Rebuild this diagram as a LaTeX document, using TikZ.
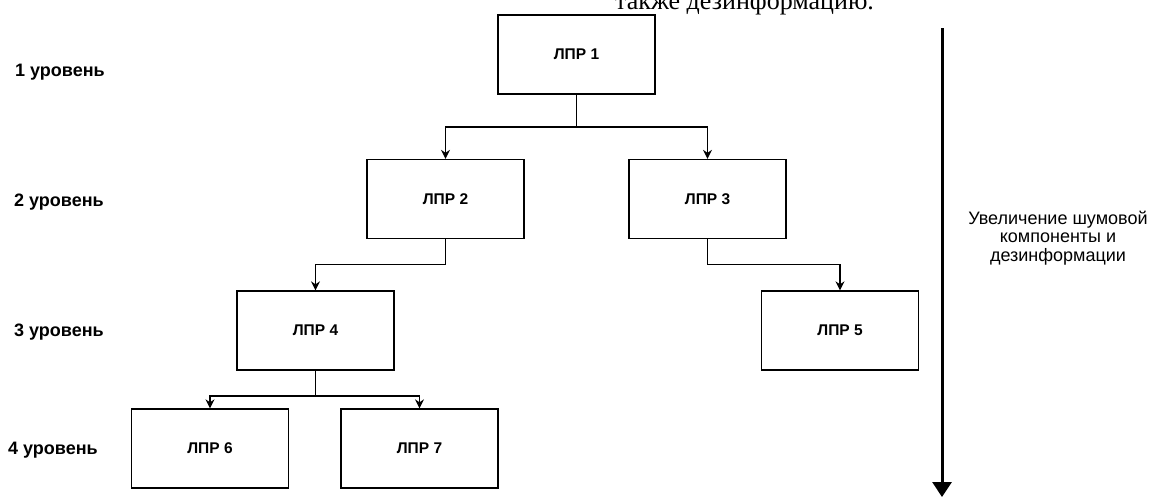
\documentclass[tikz,border=0pt]{standalone}
\usepackage{fontspec}
\setmainfont{Liberation Sans}
\newfontfamily\serifcap{Liberation Serif}
\usetikzlibrary{arrows.meta,positioning}

\tikzset{
  lpr/.style={draw, line width=1.3pt, minimum width=157pt, minimum height=79pt,
              inner sep=0pt, font=\bfseries\fontsize{15.5}{17}\selectfont},
  lvl/.style={anchor=west, inner sep=0pt, font=\bfseries\fontsize{18}{20}\selectfont},
  link/.style={line width=1.3pt, -{Stealth[length=9pt,width=9pt]}},
  bigarrow/.style={line width=3pt, -{Triangle[length=15pt,width=19pt]}}
}

\begin{document}
\begin{tikzpicture}[x=1pt,y=-1pt]
  \useasboundingbox (0,0) rectangle (1153,498);

  % caption line continuing from the text above
  \node[anchor=base west, inner sep=0pt, font=\serifcap\fontsize{26}{28}\selectfont]
    (cap) at (615,9) {также дезинформацию.};

  % hierarchy boxes
  \node[lpr] (n1) at (576.5,54.5) {ЛПР 1};
  \node[lpr] (n2) at (445.5,199)  {ЛПР 2};
  \node[lpr] (n3) at (707.5,199)  {ЛПР 3};
  \node[lpr] (n4) at (315.5,330.5) {ЛПР 4};
  \node[lpr] (n5) at (840,330.5)  {ЛПР 5};
  \node[lpr] (n6) at (210,448.5)  {ЛПР 6};
  \node[lpr] (n7) at (419.5,448.5) {ЛПР 7};

  % branching points of the connectors
  \coordinate (j1) at (576.5,127);
  \coordinate (j2) at (445.5,264.5);
  \coordinate (j3) at (707.5,264.5);
  \coordinate (j4) at (315.5,396);

  \draw[link] (n1.south) -- (j1) -| (n2.north);
  \draw[link] (n1.south) -- (j1) -| (n3.north);
  \draw[link] (n2.south) -- (j2) -| (n4.north);
  \draw[link] (n3.south) -- (j3) -| (n5.north);
  \draw[link] (n4.south) -- (j4) -| (n6.north);
  \draw[link] (n4.south) -- (j4) -| (n7.north);

  % level labels
  \node[lvl] (l1) at (15,72)  {1 уровень};
  \node[lvl] (l2) at (14,202) {2 уровень};
  \node[lvl] (l3) at (14,332) {3 уровень};
  \node[lvl] (l4) at (8,450)  {4 уровень};

  % direction of growing noise
  \coordinate (atop) at (942,28);
  \coordinate (abot) at (942,497);
  \draw[bigarrow] (atop) -- (abot);
  \node[align=center, inner sep=0pt, font=\fontsize{18}{18.5}\selectfont]
    (noise) at (1058,238) {Увеличение шумовой\\компоненты и\\дезинформации};
\end{tikzpicture}
\end{document}
